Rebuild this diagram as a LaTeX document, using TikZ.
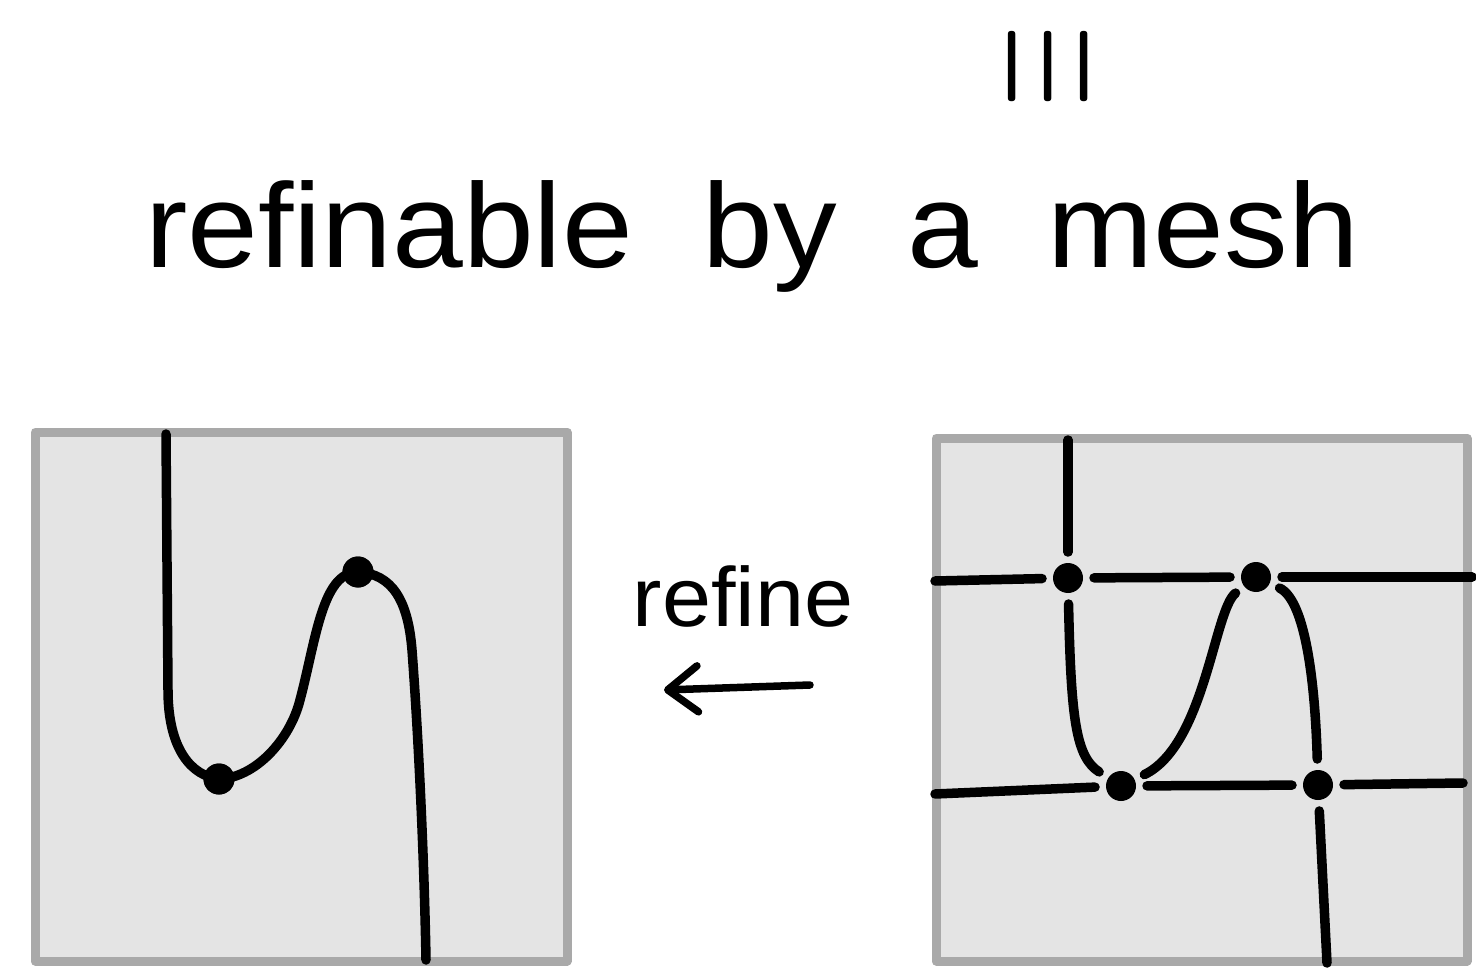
\documentclass[tikz,border=0pt]{standalone}
\usepackage{fontspec}
\setmainfont{Liberation Sans}
\usetikzlibrary{arrows.meta}
\definecolor{boxgray}{HTML}{A9A9A9}
\definecolor{boxfill}{HTML}{E4E4E4}
\tikzset{
  panel/.style={draw=boxgray, fill=boxfill, line width=9pt, line join=round},
  strand/.style={draw=black, line width=9.5pt, line cap=round, line join=round},
  dotnode/.style={circle, fill=black, minimum size=30pt, inner sep=0pt, outer sep=11pt},
  bigdot/.style={circle, fill=black, minimum size=31pt, inner sep=0pt},
  refarrow/.style={draw=black, line width=7.5pt, line cap=round,
    -{Straight Barb[length=30pt,width=46pt,line cap=round,line join=round]}}
}
\begin{document}
\begin{tikzpicture}[x=1pt,y=-1pt]
\useasboundingbox (0,0) rectangle (1476,968);

% equivalence sign (rotated) and title
\node[inner sep=0pt] (equiv) at (1051,66) {\resizebox{86pt}{82pt}{\rotatebox{90}{$\equiv$}}};
\node[anchor=base, inner sep=0pt] (title) at (752,268)
  {\scalebox{1.06}[1]{\fontsize{120}{140}\selectfont\spaceskip=66pt refinable by a mesh}};

% left panel
\path[panel] (35,432) rectangle (567,961);
\coordinate (lt) at (166,434);
\coordinate (lb) at (426,960);
\node[bigdot] (A) at (219,779) {};
\node[bigdot] (B) at (358,572) {};
\draw[strand] (lt) -- (168,690) .. controls (168,750) and (192,776) .. (A.center)
  .. controls (255,778) and (290,740) .. (300,700)
  .. controls (316,640) and (322,572) .. (B.center)
  .. controls (392,574) and (408,600) .. (412,650)
  .. controls (418,730) and (424,850) .. (lb);
\node[bigdot] at (A) {};
\node[bigdot] at (B) {};

% label and arrow
\node[anchor=base, inner sep=0pt] (reflabel) at (743,626)
  {\scalebox{1.05}[1]{\fontsize{84}{100}\selectfont refine}};
\coordinate (arS) at (810,685);
\coordinate (arE) at (664,690);
\draw[refarrow] (arS) -- (arE);

% right panel
\path[panel] (936,438) rectangle (1467,961);
\node[dotnode] (d1) at (1068,578) {};
\node[dotnode] (d2) at (1256,577) {};
\node[dotnode] (d3) at (1121,786) {};
\node[dotnode] (d4) at (1318,785) {};
\coordinate (rtop) at (1068,440);
\coordinate (rlt) at (935,581);
\coordinate (rrt) at (1472,577);
\coordinate (rlb) at (935,794);
\coordinate (rrb) at (1463,783);
\coordinate (rbot) at (1327,963);

\draw[strand] (d1) -- (rtop);
\draw[strand] (d1) -- (rlt);
\draw[strand] (d1) -- (d2);
\draw[strand] (d2) -- (rrt);
\draw[strand] (d1) .. controls (1071,720) and (1076,757) .. (d3);
\draw[strand] (d2) .. controls (1214,610) and (1205,745) .. (d3);
\draw[strand] (d2) .. controls (1305,600) and (1315,680) .. (d4);
\draw[strand] (d3) -- (rlb);
\draw[strand] (d3) -- (d4);
\draw[strand] (d4) -- (rrb);
\draw[strand] (d4) -- (rbot);
\end{tikzpicture}
\end{document}
